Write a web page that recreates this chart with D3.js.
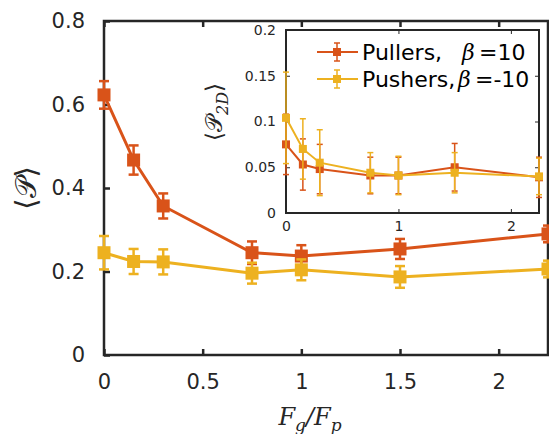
<!DOCTYPE html>
<html>
<head>
<meta charset="utf-8">
<script src="https://cdn.jsdelivr.net/npm/d3@7"></script>
<style>
  body { margin: 0; background: #fff; }
  svg text { font-family: "DejaVu Sans", sans-serif; fill: #262626; }
  .math { font-family: "DejaVu Serif", serif; font-style: italic; }
</style>
</head>
<body>
<div id="chart"></div>
<script>
// values
const forceRatio = [0, 0.15, 0.3, 0.75, 1, 1.5, 2.25];
const pullersP = [0.623, 0.467, 0.357, 0.245, 0.237, 0.254, 0.29];
const pullersPErr = [0.033, 0.035, 0.03, 0.027, 0.026, 0.024, 0.02];
const pushersP = [0.245, 0.224, 0.223, 0.196, 0.204, 0.187, 0.206];
const pushersPErr = [0.04, 0.03, 0.03, 0.025, 0.025, 0.026, 0.02];
const pullersP2D = [0.075, 0.053, 0.048, 0.041, 0.041, 0.05, 0.039];
const pullersP2DErr = [0.033, 0.028, 0.027, 0.02, 0.02, 0.026, 0.022];
const pushersP2D = [0.104, 0.07, 0.055, 0.044, 0.041, 0.044, 0.04];
const pushersP2DErr = [0.05, 0.033, 0.036, 0.022, 0.021, 0.022, 0.02];

const mainXTicks = [0, 0.5, 1, 1.5, 2];
const mainYTicks = [0, 0.2, 0.4, 0.6, 0.8];
const insetXTicks = [0, 1, 2];
const insetYTicks = [0, 0.05, 0.1, 0.15, 0.2];
const legendLabels = ["Pullers,", "Pushers,"];
const legendBeta = ["=10", "=-10"];

const pullColor = "#D95319";
const pushColor = "#EDB120";
const axisColor = "#262626";

const width = 549, height = 434;
const svg = d3.select("#chart").append("svg")
    .attr("width", width)
    .attr("height", height);

// ---- main axes ----
const x = d3.scaleLinear().domain([0, 2.25]).range([104, 548]);
const y = d3.scaleLinear().domain([0, 0.8]).range([355, 21]);

function styleAxis(g, fontSize) {
    g.select(".domain").remove();
    g.selectAll(".tick line").attr("stroke", axisColor);
    g.selectAll(".tick text").attr("fill", axisColor).style("font-size", fontSize + "px");
}

svg.append("g")
    .attr("transform", "translate(0," + y(0) + ")")
    .call(d3.axisBottom(x).tickValues(mainXTicks).tickSize(-6).tickPadding(19).tickFormat(d3.format("")))
    .call(g => styleAxis(g, 21))
    .selectAll(".tick line").attr("stroke-width", 2.5);
svg.append("g")
    .attr("transform", "translate(0," + y(0.8) + ")")
    .call(d3.axisTop(x).tickValues(mainXTicks).tickSize(-6).tickFormat(""))
    .call(g => styleAxis(g, 21))
    .selectAll(".tick line").attr("stroke-width", 2.5);
svg.append("g")
    .attr("transform", "translate(" + x(0) + ",0)")
    .call(d3.axisLeft(y).tickValues(mainYTicks).tickSize(-6).tickPadding(19).tickFormat(d3.format("")))
    .call(g => styleAxis(g, 21))
    .selectAll(".tick line").attr("stroke-width", 2.5);

svg.append("rect")
    .attr("x", x(0)).attr("y", y(0.8))
    .attr("width", x(2.25) - x(0)).attr("height", y(0) - y(0.8))
    .attr("fill", "none").attr("stroke", axisColor).attr("stroke-width", 2.5);

function drawSeries(g, xs, ys, vals, errs, color, o) {
    const pts = vals.map((v, i) => ({x: forceRatio[i], v: v, e: errs[i]}));
    g.append("path")
        .datum(pts)
        .attr("fill", "none")
        .attr("stroke", color)
        .attr("stroke-width", o.lw)
        .attr("d", d3.line().x(d => xs(d.x)).y(d => ys(d.v)));
    const eb = g.selectAll(".eb" + o.key).data(pts).join("g");
    eb.append("line")
        .attr("x1", d => xs(d.x)).attr("x2", d => xs(d.x))
        .attr("y1", d => ys(d.v - d.e)).attr("y2", d => ys(d.v + d.e))
        .attr("stroke", color).attr("stroke-width", o.elw);
    [1, -1].forEach(s => {
        eb.append("line")
            .attr("x1", d => xs(d.x) - o.cap).attr("x2", d => xs(d.x) + o.cap)
            .attr("y1", d => ys(d.v + s * d.e)).attr("y2", d => ys(d.v + s * d.e))
            .attr("stroke", color).attr("stroke-width", o.elw);
    });
    g.selectAll(".mk" + o.key).data(pts).join("rect")
        .attr("x", d => xs(d.x) - o.ms / 2)
        .attr("y", d => ys(d.v) - o.ms / 2)
        .attr("width", o.ms).attr("height", o.ms)
        .attr("fill", color);
}

const mainG = svg.append("g");
drawSeries(mainG, x, y, pullersP, pullersPErr, pullColor, {key: "a", lw: 3, elw: 2.5, cap: 5, ms: 13});
drawSeries(mainG, x, y, pushersP, pushersPErr, pushColor, {key: "b", lw: 3, elw: 2.5, cap: 5, ms: 13});

// main labels
svg.append("text")
    .attr("transform", "translate(36,188) rotate(-90)")
    .attr("text-anchor", "middle")
    .style("font-size", "29px")
    .text("\u27E8\uD835\uDCAB\u27E9");

const xl = svg.append("text")
    .attr("class", "math")
    .attr("x", 310).attr("y", 425)
    .attr("text-anchor", "middle")
    .style("font-size", "24px");
xl.append("tspan").text("F");
xl.append("tspan").attr("dy", 6).style("font-size", "17px").text("g");
xl.append("tspan").attr("dy", -6).text("/F");
xl.append("tspan").attr("dy", 6).style("font-size", "17px").text("p");

// ---- inset ----
const xi = d3.scaleLinear().domain([0, 2.25]).range([286, 539]);
const yi = d3.scaleLinear().domain([0, 0.2]).range([213, 30]);

svg.append("rect")
    .attr("x", xi(0)).attr("y", yi(0.2))
    .attr("width", xi(2.25) - xi(0)).attr("height", yi(0) - yi(0.2))
    .attr("fill", "#fff");

svg.append("g")
    .attr("transform", "translate(0," + yi(0) + ")")
    .call(d3.axisBottom(xi).tickValues(insetXTicks).tickSize(-4).tickPadding(8).tickFormat(d3.format("")))
    .call(g => styleAxis(g, 14));
svg.append("g")
    .attr("transform", "translate(0," + yi(0.2) + ")")
    .call(d3.axisTop(xi).tickValues(insetXTicks).tickSize(-4).tickFormat(""))
    .call(g => styleAxis(g, 14));
svg.append("g")
    .attr("transform", "translate(" + xi(0) + ",0)")
    .call(d3.axisLeft(yi).tickValues(insetYTicks).tickSize(-4).tickPadding(10).tickFormat(d3.format("")))
    .call(g => styleAxis(g, 14));
svg.append("g")
    .attr("transform", "translate(" + xi(2.25) + ",0)")
    .call(d3.axisRight(yi).tickValues(insetYTicks).tickSize(-4).tickFormat(""))
    .call(g => styleAxis(g, 14));

svg.append("rect")
    .attr("x", xi(0)).attr("y", yi(0.2))
    .attr("width", xi(2.25) - xi(0)).attr("height", yi(0) - yi(0.2))
    .attr("fill", "none").attr("stroke", axisColor).attr("stroke-width", 2);

const insetG = svg.append("g");
drawSeries(insetG, xi, yi, pullersP2D, pullersP2DErr, pullColor, {key: "c", lw: 2, elw: 1.5, cap: 3, ms: 8});
drawSeries(insetG, xi, yi, pushersP2D, pushersP2DErr, pushColor, {key: "d", lw: 2, elw: 1.5, cap: 3, ms: 8});

const il = svg.append("text")
    .attr("transform", "translate(222,112) rotate(-90)")
    .attr("text-anchor", "middle")
    .style("font-size", "23px");
il.append("tspan").text("\u27E8\uD835\uDCAB");
il.append("tspan").attr("class", "math").attr("dy", 6).style("font-size", "16px").text("2D");
il.append("tspan").attr("dy", -6).text("\u27E9");

// legend
const legColors = [pullColor, pushColor];
legendLabels.forEach((lab, i) => {
    const ly = 52 + i * 27;
    const lg = svg.append("g");
    lg.append("line").attr("x1", 317).attr("x2", 358).attr("y1", ly).attr("y2", ly)
        .attr("stroke", legColors[i]).attr("stroke-width", 2);
    lg.append("line").attr("x1", 337).attr("x2", 337).attr("y1", ly - 9).attr("y2", ly + 9)
        .attr("stroke", legColors[i]).attr("stroke-width", 1.5);
    [-9, 9].forEach(dy => lg.append("line").attr("x1", 334).attr("x2", 340)
        .attr("y1", ly + dy).attr("y2", ly + dy)
        .attr("stroke", legColors[i]).attr("stroke-width", 1.5));
    lg.append("rect").attr("x", 333).attr("y", ly - 4).attr("width", 8).attr("height", 8)
        .attr("fill", legColors[i]);
    lg.append("text").attr("x", 362).attr("y", ly + 8)
        .style("font-size", "22px").style("fill", "#000").text(lab);
    const bx = i === 0 ? 462 : 458;
    lg.append("text").attr("class", "math").attr("x", bx).attr("y", ly + 8)
        .style("font-size", "22px").style("fill", "#000").text("\u03B2");
    lg.append("text").attr("x", bx + 17).attr("y", ly + 8)
        .style("font-size", "22px").style("fill", "#000").text(legendBeta[i]);
});
</script>
</body>
</html>
